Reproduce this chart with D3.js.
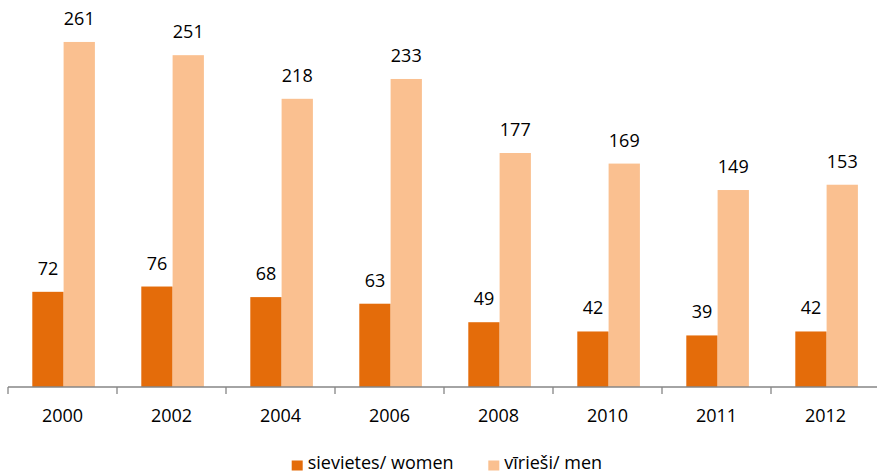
<!DOCTYPE html>
<html><head><meta charset="utf-8">
<script src="https://cdn.jsdelivr.net/npm/d3@7"></script>
<style>body{margin:0;background:#fff}svg{display:block;font-family:"Open Sans",sans-serif}</style>
</head><body>
<svg id="c" width="877" height="474"></svg>
<script>
const categories = ["2000","2002","2004","2006","2008","2010","2011","2012"];
const women = [72,76,68,63,49,42,39,42];
const men = [261,251,218,233,177,169,149,153];
const seriesNames = ["sievietes/ women","vīrieši/ men"];
const colors = ["#E46C0A","#FAC090"];
const FS = "18px";

const svg = d3.select("#c");
const x = d3.scaleBand().domain(categories).range([8,880]).paddingInner(0).paddingOuter(0);
const y = d3.scaleLinear().domain([0,300]).range([387, 387-1.322*300]);
const inner = d3.scaleBand().domain([0,1]).range([24.3, 24.3+62.6]);

const data = categories.map((c,i)=>({c, vals:[women[i], men[i]]}));
const g = svg.append("g");
data.forEach(d=>{
  d.vals.forEach((v,k)=>{
    g.append("rect")
      .attr("x", x(d.c)+inner(k))
      .attr("y", y(v))
      .attr("width", inner.bandwidth())
      .attr("height", y(0)-y(v))
      .attr("fill", colors[k]);
    g.append("text")
      .attr("x", x(d.c)+inner(k)+inner.bandwidth()/2)
      .attr("y", y(v)-17)
      .attr("text-anchor","middle")
      .attr("font-size",FS)
      .attr("fill","#000")
      .text(v);
  });
});

// axis
const axis = svg.append("g");
axis.append("line").attr("x1",8).attr("x2",880).attr("y1",387).attr("y2",387)
  .attr("stroke","#868686").attr("stroke-width",1.3);
const ticks = categories.map(c=>x(c)).concat([x(categories[categories.length-1])+x.bandwidth()]);
ticks.forEach(t=>{
  axis.append("line").attr("x1",t).attr("x2",t).attr("y1",387).attr("y2",394)
    .attr("stroke","#868686").attr("stroke-width",1.3);
});
categories.forEach(c=>{
  axis.append("text").attr("x",x(c)+x.bandwidth()/2).attr("y",422)
    .attr("text-anchor","middle").attr("font-size",FS).attr("fill","#000").text(c);
});

// legend
const legX = [291.7, 488.3];
seriesNames.forEach((n,k)=>{
  svg.append("rect").attr("x",legX[k]).attr("y",460.5).attr("width",11).attr("height",10).attr("fill",colors[k]);
  svg.append("text").attr("x",legX[k]+16).attr("y",469).attr("font-size",FS).attr("fill","#000").text(n);
});
</script>
</body></html>
